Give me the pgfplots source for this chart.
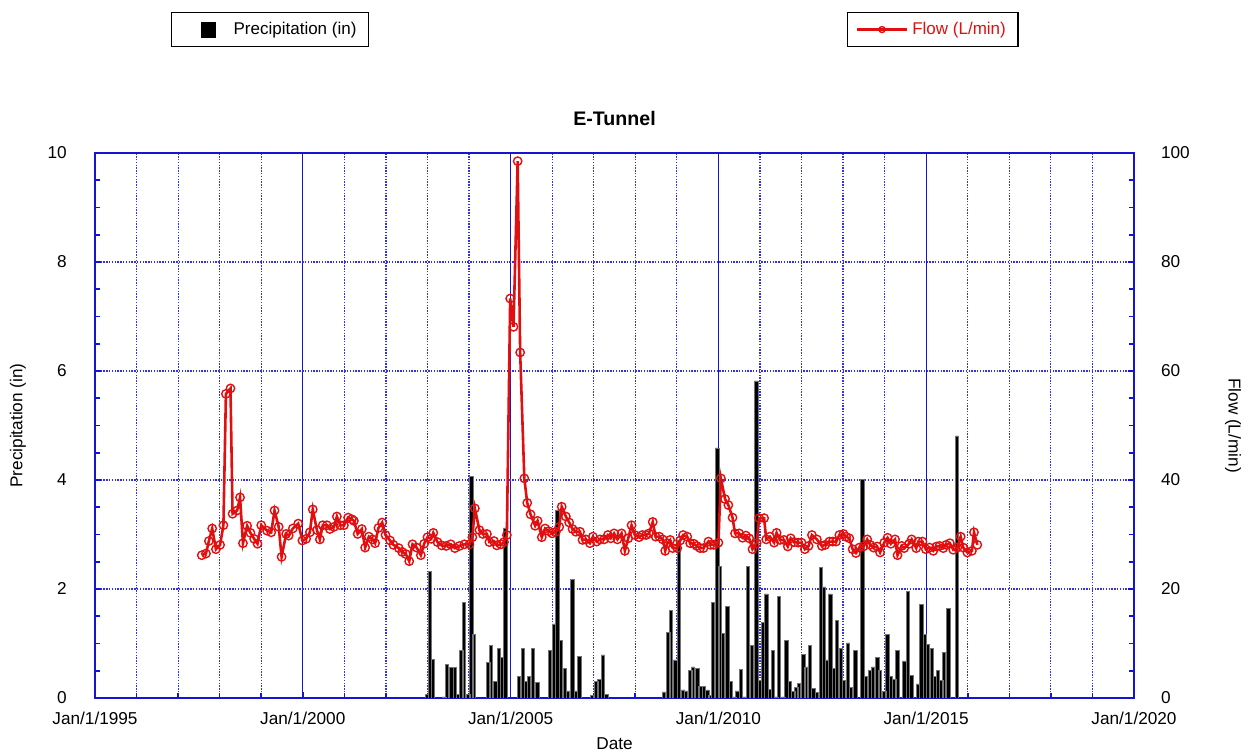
\documentclass[border=0pt]{standalone}
\usepackage{fontspec}
\setmainfont{Liberation Sans}
\usepackage{pgfplots}
\usepackage{pgfplotstable}
\pgfplotsset{compat=1.18}
\definecolor{axblue}{RGB}{20,20,210}
\definecolor{gridblue}{RGB}{50,50,225}
\definecolor{flowred}{RGB}{225,15,15}

\pgfplotstableread{
year flow
1997.57 26.2
1997.67 26.5
1997.74 28.8
1997.82 31.1
1997.91 27.3
1998.01 28.1
1998.09 31.7
1998.15 55.8
1998.26 56.8
1998.31 33.8
1998.42 34.4
1998.49 36.8
1998.56 28.4
1998.66 31.6
1998.74 30.3
1998.83 29.2
1998.91 28.3
1999.00 31.7
1999.14 30.7
1999.24 30.4
1999.32 34.4
1999.42 31.4
1999.49 25.9
1999.60 30.1
1999.66 29.8
1999.76 31.1
1999.89 32.0
1999.99 28.9
2000.08 29.2
2000.17 30.4
2000.24 34.6
2000.34 30.8
2000.41 29.1
2000.48 31.7
2000.58 31.7
2000.65 31.0
2000.75 31.4
2000.82 33.3
2000.90 31.7
2000.99 31.7
2001.09 33.1
2001.18 32.8
2001.23 32.5
2001.32 30.1
2001.42 31.0
2001.50 27.6
2001.59 29.6
2001.68 29.1
2001.74 28.4
2001.82 31.2
2001.91 32.2
2001.99 29.9
2002.10 28.9
2002.18 28.1
2002.31 27.5
2002.39 26.8
2002.48 26.4
2002.56 25.1
2002.64 28.2
2002.74 27.6
2002.84 26.2
2002.92 28.3
2003.00 29.5
2003.09 29.2
2003.14 30.3
2003.24 28.6
2003.34 28.0
2003.45 27.9
2003.56 28.2
2003.66 27.5
2003.77 27.9
2003.89 28.2
2004.01 28.2
2004.08 29.5
2004.14 34.8
2004.25 30.8
2004.33 30.1
2004.43 30.1
2004.49 28.6
2004.60 28.8
2004.67 28.0
2004.77 28.2
2004.84 28.6
2004.91 29.9
2004.99 73.3
2005.07 68.1
2005.17 98.5
2005.23 63.4
2005.33 40.3
2005.40 35.8
2005.48 33.7
2005.59 31.6
2005.65 32.5
2005.75 29.5
2005.83 31.1
2005.92 30.6
2006.00 30.2
2006.09 30.5
2006.17 31.4
2006.23 35.1
2006.33 33.3
2006.41 32.2
2006.49 31.0
2006.57 30.5
2006.67 30.5
2006.73 29.0
2006.81 29.1
2006.91 28.4
2006.98 29.6
2007.07 28.7
2007.15 29.1
2007.25 29.1
2007.34 29.9
2007.41 29.3
2007.49 30.2
2007.57 29.1
2007.67 30.2
2007.75 27.0
2007.83 29.3
2007.91 31.7
2007.99 29.9
2008.09 29.5
2008.17 29.9
2008.26 29.9
2008.33 30.2
2008.42 32.3
2008.49 29.6
2008.58 29.6
2008.66 29.1
2008.72 27.0
2008.77 28.4
2008.84 29.0
2008.90 27.5
2009.01 27.5
2009.08 28.9
2009.15 29.9
2009.25 29.6
2009.32 28.4
2009.41 28.3
2009.48 27.9
2009.56 27.5
2009.64 27.5
2009.76 28.7
2009.81 28.1
2009.89 28.1
2010.00 28.5
2010.06 40.3
2010.16 36.5
2010.24 35.4
2010.34 33.1
2010.40 30.2
2010.50 30.2
2010.58 29.4
2010.66 29.8
2010.74 29.3
2010.82 27.3
2010.92 28.4
2010.98 33.0
2011.10 33.0
2011.15 29.1
2011.24 29.6
2011.34 28.5
2011.40 30.3
2011.48 29.0
2011.58 29.0
2011.67 27.8
2011.74 29.3
2011.82 28.6
2011.92 28.5
2012.00 28.5
2012.08 27.3
2012.17 27.9
2012.25 29.9
2012.37 29.1
2012.49 27.9
2012.57 28.1
2012.67 28.7
2012.75 28.7
2012.83 28.7
2012.91 29.9
2013.01 30.1
2013.07 29.6
2013.15 29.3
2013.23 27.3
2013.31 26.6
2013.39 27.6
2013.49 27.8
2013.58 29.1
2013.65 28.1
2013.73 27.6
2013.82 27.8
2013.89 26.7
2013.99 28.5
2014.07 29.4
2014.15 28.3
2014.25 29.1
2014.31 26.2
2014.41 27.9
2014.47 27.5
2014.59 28.3
2014.65 29.1
2014.76 27.5
2014.81 28.7
2014.91 28.7
2014.99 27.3
2015.08 27.6
2015.17 27.0
2015.25 27.8
2015.32 27.9
2015.41 27.5
2015.48 28.1
2015.57 28.4
2015.65 27.2
2015.75 27.6
2015.83 29.6
2015.89 27.6
2015.99 26.7
2016.10 27.0
2016.15 30.4
2016.23 28.1
}\flowtable

\pgfplotstableread{
year precip
2002.99 0.07
2003.06 2.33
2003.13 0.71
2003.40 0.02
2003.47 0.62
2003.57 0.56
2003.66 0.56
2003.73 0.07
2003.81 0.87
2003.88 1.75
2003.98 0.07
2004.05 4.07
2004.12 1.17
2004.46 0.65
2004.53 0.97
2004.63 0.31
2004.72 0.91
2004.79 0.74
2004.87 3.12
2005.20 0.39
2005.30 0.91
2005.37 0.30
2005.44 0.39
2005.54 0.91
2005.64 0.29
2005.95 0.88
2006.04 1.36
2006.12 3.45
2006.21 1.06
2006.31 0.55
2006.38 0.13
2006.48 2.17
2006.57 0.13
2006.65 0.76
2006.96 0.05
2007.06 0.30
2007.13 0.34
2007.22 0.79
2007.30 0.07
2008.69 0.11
2008.79 1.20
2008.86 1.60
2008.96 0.70
2009.05 2.90
2009.15 0.15
2009.22 0.13
2009.32 0.50
2009.39 0.57
2009.49 0.55
2009.56 0.21
2009.65 0.21
2009.73 0.15
2009.80 0.05
2009.87 1.75
2009.97 4.59
2010.04 2.41
2010.11 1.19
2010.21 1.68
2010.30 0.31
2010.38 0.02
2010.45 0.13
2010.54 0.53
2010.62 0.02
2010.71 2.41
2010.81 0.97
2010.91 5.82
2011.00 0.32
2011.07 1.38
2011.15 1.91
2011.24 0.16
2011.31 0.87
2011.39 0.02
2011.46 1.86
2011.56 0.02
2011.63 1.05
2011.72 0.30
2011.80 0.12
2011.87 0.19
2011.94 0.27
2012.04 0.80
2012.11 0.57
2012.20 0.97
2012.28 0.18
2012.37 0.10
2012.47 2.40
2012.54 2.04
2012.61 0.70
2012.69 1.91
2012.78 0.54
2012.85 1.43
2012.95 0.91
2013.02 0.33
2013.12 1.01
2013.19 0.20
2013.29 0.87
2013.46 4.01
2013.55 0.39
2013.65 0.50
2013.72 0.57
2013.82 0.74
2013.89 0.50
2013.99 0.12
2014.06 1.17
2014.15 0.40
2014.23 0.34
2014.30 0.88
2014.47 0.68
2014.56 1.96
2014.64 0.42
2014.80 0.26
2014.88 1.72
2014.97 1.17
2015.04 0.99
2015.14 0.91
2015.21 0.39
2015.28 0.50
2015.36 0.32
2015.43 0.83
2015.53 1.65
2015.74 4.81
}\preciptable

\begin{document}
\begin{tikzpicture}
\useasboundingbox (-47.5pt,-28pt) rectangle (576.5pt,349pt);
\pgfplotsset{
  common/.style={
    width=519.5pt, height=272.5pt, scale only axis,
    at={(0,0)}, anchor=south west,
    xmin=1995, xmax=2020,
    /pgf/number format/assume math mode=true,
    tick label style={font=\fontsize{8.6}{10}\selectfont},
    axis line style={axblue, line width=1pt},
    tick style={axblue, line width=0.8pt},
    tick align=inside,
    major tick length=3pt, minor tick length=2.5pt,
    legend cell align=left,
  }
}
\begin{axis}[common,
  ymin=0, ymax=10,
  xtick={1995,2000,2005,2010,2015,2020},
  xticklabels={Jan/1/1995,Jan/1/2000,Jan/1/2005,Jan/1/2010,Jan/1/2015,Jan/1/2020},
  minor x tick num=4,
  ytick={0,2,4,6,8,10},
  minor y tick num=3,
  xtick pos=bottom, ytick pos=left,
  xmajorgrids, xminorgrids, ymajorgrids,
  major x grid style={axblue, line width=0.7pt, solid},
  minor x grid style={gridblue, line width=0.6pt, dash pattern=on 0.7pt off 0.7pt},
  major y grid style={gridblue, line width=0.6pt, dash pattern=on 0.7pt off 0.7pt},
  yticklabel style={xshift=-10.6pt},
  xticklabel style={yshift=-3.6pt},
  xlabel={Date}, ylabel={Precipitation (in)},
  title={E-Tunnel},
  every axis x label/.style={at={(axis description cs:0.5,-0.0844)}, anchor=center, font=\fontsize{8.6}{10}\selectfont},
  every axis y label/.style={at={(axis description cs:-0.0741,0.5)}, anchor=center, rotate=90, font=\fontsize{8.6}{10}\selectfont},
  every axis title/.style={at={(axis description cs:0.5,1.0642)}, anchor=center, font=\bfseries\fontsize{9.8}{12}\selectfont},
  legend style={at={(0.0731,1.2587)}, anchor=north west, draw=black, line width=0.7pt,
    inner xsep=4pt, inner ysep=2.6pt, font=\fontsize{8.5}{10}\selectfont, fill=white},
]
\addplot[ybar, bar width=0.082, fill=black, draw=black!55, line width=0.3pt,
  legend image code/.code={\path[draw=none, fill=none] (0pt,0pt) rectangle (25pt,0.1pt); \fill[black, draw=none] (10.5pt,-4pt) rectangle (18pt,4pt);}]
  table[x=year, y=precip] {\preciptable};
\addlegendentry{Precipitation (in)}
\end{axis}

\begin{axis}[common,
  ymin=0, ymax=100,
  hide x axis,
  axis y line*=right,
  ytick={0,20,40,60,80,100},
  minor y tick num=3,
  yticklabel style={xshift=10pt},
  ylabel={Flow (L/min)},
  every axis y label/.style={at={(axis description cs:1.0953,0.5)}, anchor=center, rotate=-90, font=\fontsize{8.6}{10}\selectfont},
  legend style={at={(0.7238,1.2587)}, anchor=north west, draw=black, line width=0.7pt,
    inner xsep=4pt, inner ysep=2.6pt, font=\fontsize{8.5}{10}\selectfont, fill=white, text=flowred},
]
\addplot[flowred, line width=1.3pt, mark=o, mark size=2.1pt,
  mark options={fill=white, line width=0.7pt, solid},
  legend image code/.code={\path[draw=none] (0pt,0pt) rectangle (25.5pt,0.1pt); \draw[mark repeat=2, mark phase=2, mark size=1.5pt] plot coordinates {(0.5pt,0pt) (13pt,0pt) (25.5pt,0pt)};}]
  table[x=year, y=flow] {\flowtable};
\addlegendentry{Flow (L/min)}
\end{axis}
\end{tikzpicture}
\end{document}
